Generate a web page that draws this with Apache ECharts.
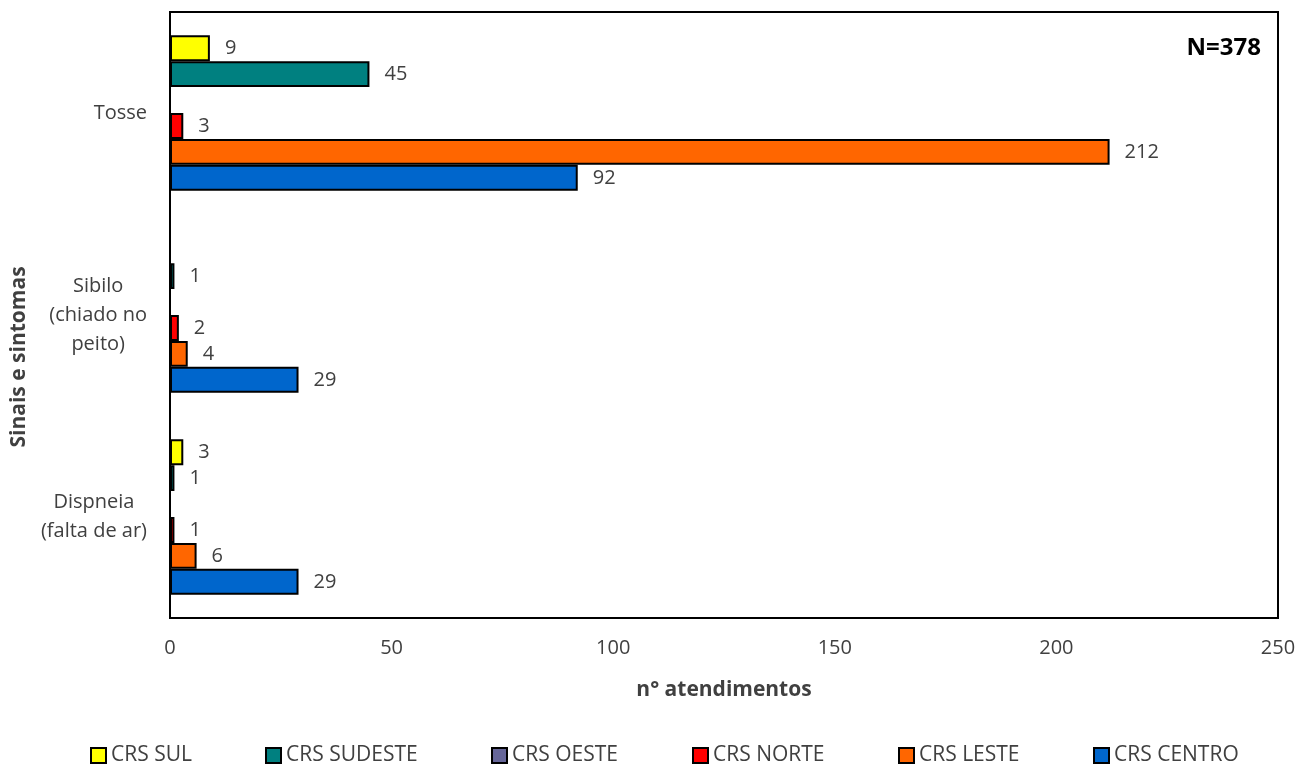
<!DOCTYPE html>
<html>
<head>
<meta charset="utf-8">
<title>Sinais e sintomas por CRS</title>
<script src="https://cdn.jsdelivr.net/npm/echarts@6/dist/echarts.min.js"></script>
<style>
  html, body { margin: 0; padding: 0; background: #ffffff; }
  #chart { width: 1307px; height: 765px; }
</style>
</head>
<body>
<div id="chart"></div>
<script>
// Symptom categories, listed bottom to top along the y axis
const categories = ['Dispneia\n(falta de ar)', 'Sibilo\n(chiado no\npeito)', 'Tosse'];

// Number of attendances per regional health coordination (null = no cases)
const crsSul     = [3, null, 9];
const crsSudeste = [1, 1, 45];
const crsOeste   = [null, null, null];
const crsNorte   = [1, 2, 3];
const crsLeste   = [6, 4, 212];
const crsCentro  = [29, 29, 92];

const xTicks = [0, 50, 100, 150, 200, 250];
const totalLabel = 'N=378';

const FONT = '"Open Sans", "Noto Sans", sans-serif';
const TEXT = '#404040';

const seriesDefs = [
  { name: 'CRS SUL',     data: crsSul,     color: '#FFFF00' },
  { name: 'CRS SUDESTE', data: crsSudeste, color: '#008080' },
  { name: 'CRS OESTE',   data: crsOeste,   color: '#666699' },
  { name: 'CRS NORTE',   data: crsNorte,   color: '#FF0000' },
  { name: 'CRS LESTE',   data: crsLeste,   color: '#FF6600' },
  { name: 'CRS CENTRO',  data: crsCentro,  color: '#0066CC' }
];

// one legend block per entry so each sits at its own spot along the bottom
const legendLeft = [90, 265, 491, 692, 898, 1093];

const chart = echarts.init(document.getElementById('chart'), null, { renderer: 'canvas' });

chart.setOption({
  animation: false,
  backgroundColor: '#ffffff',
  textStyle: { fontFamily: FONT, color: TEXT },
  grid: {
    left: 170, right: 29, top: 12, bottom: 147,
    show: true, borderColor: '#000000', borderWidth: 2, backgroundColor: 'transparent'
  },
  legend: seriesDefs.map((s, i) => ({
    data: [s.name],
    left: legendLeft[i],
    top: 745,
    padding: 0,
    icon: 'rect',
    itemWidth: 15,
    itemHeight: 15,
    itemStyle: { borderColor: '#000000', borderWidth: 2 },
    textStyle: { fontFamily: FONT, fontSize: 21, color: TEXT },
    selectedMode: false
  })),
  xAxis: {
    type: 'value',
    min: xTicks[0],
    max: xTicks[xTicks.length - 1],
    interval: xTicks[1] - xTicks[0],
    name: 'n° atendimentos',
    nameLocation: 'middle',
    nameGap: 62,
    nameTextStyle: { fontFamily: FONT, fontSize: 21, fontWeight: 'bold', color: TEXT },
    axisLine: { show: false },
    axisTick: { show: false },
    splitLine: { show: false },
    axisLabel: { fontFamily: FONT, fontSize: 20, color: TEXT, margin: 20 }
  },
  yAxis: {
    type: 'category',
    data: categories,
    axisLine: { show: false },
    axisTick: { show: false },
    splitLine: { show: false },
    axisLabel: {
      margin: 23,
      align: 'right',
      fontFamily: FONT,
      fontSize: 20,
      color: TEXT,
      // each line centred inside the label block
      formatter: (v) => v.split('\n').map(l => '{c|' + l + '}').join('\n'),
      rich: {
        c: { align: 'center', fontFamily: FONT, fontSize: 20, color: TEXT, lineHeight: 29 }
      }
    }
  },
  series: seriesDefs.map(s => ({
    name: s.name,
    type: 'bar',
    data: s.data,
    barGap: '0%',
    barCategoryGap: '23%',
    itemStyle: { color: s.color, borderColor: '#000000', borderWidth: 2 },
    label: {
      show: true,
      position: 'right',
      distance: 15,
      fontFamily: FONT,
      fontSize: 20,
      color: TEXT
    }
  })),
  graphic: [
    {
      type: 'text',
      x: 19,
      y: 357,
      rotation: Math.PI / 2,
      style: {
        text: 'Sinais e sintomas',
        fill: TEXT,
        fontFamily: FONT,
        fontSize: 21,
        fontWeight: 'bold',
        align: 'center',
        verticalAlign: 'middle'
      }
    },
    {
      type: 'text',
      x: 1261,
      y: 48,
      style: {
        text: totalLabel,
        fill: '#000000',
        fontFamily: FONT,
        fontSize: 24,
        fontWeight: 'bold',
        align: 'right',
        verticalAlign: 'middle'
      }
    }
  ]
});
</script>
</body>
</html>
